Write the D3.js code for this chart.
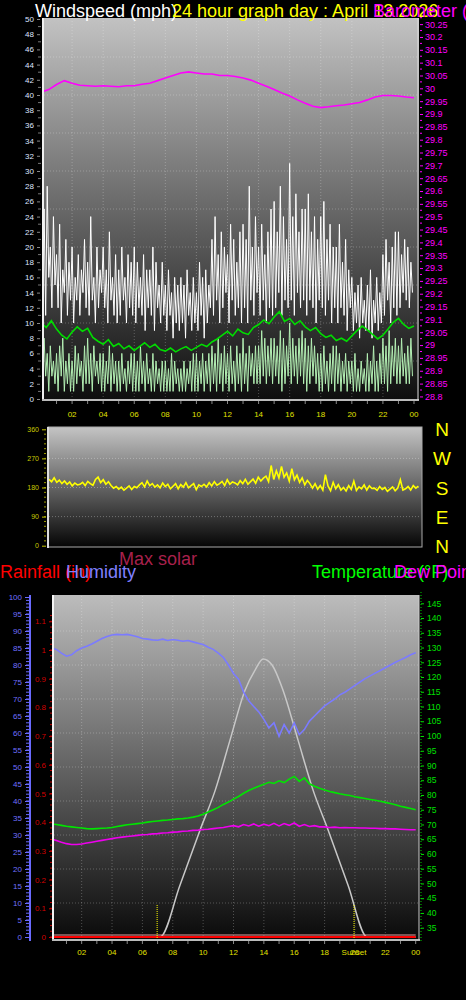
<!DOCTYPE html>
<html>
<head>
<meta charset="utf-8">
<script src="https://cdn.jsdelivr.net/npm/d3@7"></script>
<style>
body { margin: 0; background: #000; overflow: hidden; }
text { font-family: Arial, "Liberation Sans", sans-serif; }
</style>
</head>
<body>
<div id="chart"></div>
<script>
// ---- data ----
var hourTicks = [2, 4, 6, 8, 10, 12, 14, 16, 18, 20, 22, 24];
var hourLabels = ["02", "04", "06", "08", "10", "12", "14", "16", "18", "20", "22", "00"];

// wind gust, mph, every 6 min
var gust = [22,14,25,11,28,16,20,12,24,15, 19,12,23,10,17,14,21,11,18,13,
  20,10,16,13,19,11,17,14,21,12, 18,11,24,13,16,10,20,12,17,14,
  20,12,17,10,22,13,16,11,19,10, 17,11,20,13,16,10,19,12,18,11,
  20,10,18,12,16,11,19,9,17,12, 17,11,20,9,18,12,15,10,18,11,
  15,9,17,11,14,8,16,10,15,9, 16,10,15,8,17,11,14,9,16,10,
  14,9,18,11,16,8,17,10,15,12, 21,11,24,13,19,10,22,12,20,14,
  19,10,23,13,21,11,18,12,22,10, 23,12,21,10,28,13,20,11,24,14,
  20,11,23,13,19,10,22,12,25,11, 26,12,22,14,28,11,24,13,21,12,
  31,13,24,11,27,14,22,12,25,13, 25,11,27,13,22,12,24,10,21,13,
  24,12,26,11,21,13,23,10,20,12, 20,10,23,12,18,11,21,9,17,12,
  16,9,14,10,15,8,16,10,13,9, 15,9,17,8,13,10,16,9,14,10,
  19,11,21,13,18,10,20,12,22,11, 22,12,19,14,21,13,20,12,18,14];

// wind speed, mph, every 6 min
var windSpeed = [7,2,8,3,6,1,7,3,5,2, 6,1,7,3,8,1,5,2,6,1,
  5,1,7,2,6,3,5,1,7,2, 8,2,6,1,7,3,5,2,6,1,
  6,1,5,2,7,1,6,2,5,1, 5,1,6,2,4,1,5,2,6,1,
  6,1,5,1,7,2,5,1,6,2, 4,1,6,1,5,2,4,1,5,1,
  5,1,4,1,6,1,5,2,4,1, 4,1,5,1,4,2,5,1,6,1,
  6,1,5,2,6,1,5,2,6,1, 7,2,6,1,8,2,6,1,7,2,
  6,1,7,2,5,1,7,2,6,1, 8,2,6,1,7,3,6,2,7,2,
  7,2,9,3,8,2,7,3,8,2, 8,3,7,2,9,1,8,2,7,3,
  10,2,8,3,7,2,8,3,9,2, 8,1,7,2,8,3,7,2,6,1,
  6,1,7,2,5,1,6,2,7,1, 7,2,6,1,5,2,6,1,5,2,
  5,1,6,1,4,1,5,2,4,1, 6,1,5,2,7,1,5,1,6,2,
  8,2,7,1,9,2,7,3,8,2, 7,2,8,3,6,2,7,2,8,3];

// average wind speed, mph, every 20 min
var windAvg = [10.1,9.4,10.3,9.2,8.4,7.9, 8.8,9.5,8.9,9.3,8.1,7.6, 7.2,7.8,6.9,7.3,6.6,7.0,
  6.4,6.9,7.4,6.8,7.2,6.5, 6.3,6.7,6.2,6.6,6.9,6.4, 6.8,7.2,6.9,7.5,7.9,8.4,
  8.9,8.3,9.2,8.7,8.5,9.4, 9.8,10.4,9.9,10.8,11.5,10.2, 10.6,9.8,10.3,9.5,9.0,9.4,
  8.6,8.1,8.4,7.7,8.0,7.6, 8.3,9.0,9.6,9.1,8.5,7.9, 8.4,9.2,10.1,10.6,9.8,9.3, 9.6];

// barometer, inHg, every 30 min
var baro = [29.985,29.995,30.015,30.03,30.02,30.012,30.01,30.008,30.01,30.008,30.006,30.01,
  30.01,30.016,30.02,30.03,30.04,30.05,30.06,30.064,30.06,30.056,30.056,30.05,
  30.05,30.046,30.04,30.032,30.02,30.008,29.995,29.982,29.97,29.955,29.942,29.93,
  29.925,29.928,29.932,29.935,29.94,29.945,29.955,29.966,29.972,29.972,29.97,29.966,29.963];

// wind direction, degrees, every 10 min
var windDir = [205,198,210,196,203,192, 200,190,197,185,194,188, 190,196,186,199,192,187,
  205,212,195,204,190,198, 186,178,183,175,181,172, 178,185,174,183,179,188,
  195,182,200,186,192,181, 188,179,194,183,190,176, 184,192,176,189,181,195,
  179,186,192,173,188,183, 190,182,195,185,198,187, 192,199,186,204,190,197,
  194,188,201,192,205,190, 198,206,193,212,200,209, 215,198,248,205,232,210,
  245,212,225,200,238,204, 218,196,210,188,202,192, 178,192,175,186,172,220,
  185,170,196,176,189,172, 180,169,186,174,200,171, 182,176,188,172,185,177,
  178,171,183,174,180,168, 175,182,170,178,204,172, 176,183,172,186,178,184];
var dirTicks = [0, 90, 180, 270, 360];
var compass = ["N", "W", "S", "E", "N"];
var compassDeg = [360, 270, 180, 90, 0];

// humidity %, temperature and dew point F, every 20 min
var humidity = [85.0,84.6,83.5,82.6,83.0,84.2, 85.0,85.5,86.2,87.0,87.8,88.4,
  88.8,89.0,88.9,89.0,88.7,88.3, 87.8,87.6,87.4,87.3,87.6,87.2,
  87.5,87.3,87.0,87.2,86.8,86.4, 86.0,85.2,84.6,83.5,82.2,80.0,
  77.5,75.8,72.0,69.5,67.8,66.2, 64.0,61.5,63.0,59.0,62.5,60.0,
  63.0,59.5,61.0,63.5,65.0,66.5, 68.0,69.0,70.0,71.2,72.0,73.0,
  74.0,75.0,76.0,76.8,77.6,78.4, 79.2,80.0,80.8,81.5,82.2,83.0, 83.6];
var temperature = [70.2,70.0,69.7,69.4,69.2,69.0, 68.8,68.6,68.5,68.6,68.7,68.8,
  69.0,69.3,69.6,69.9,70.1,70.3, 70.5,70.8,71.0,71.2,71.4,71.5,
  71.7,71.9,72.0,72.2,72.5,72.9, 73.5,74.2,75.0,75.8,76.8,77.6,
  78.6,79.5,80.6,81.5,82.3,83.0, 83.6,84.3,83.9,84.8,84.2,85.4,
  86.3,84.6,85.8,83.8,83.0,82.3, 81.7,81.2,80.8,80.4,80.1,79.8,
  79.4,79.1,78.8,78.5,78.2,77.9, 77.5,77.1,76.7,76.2,75.8,75.4, 75.0];
var dewPoint = [65.0,64.6,64.0,63.5,63.2,63.2, 63.4,63.7,64.0,64.3,64.6,64.9,
  65.2,65.5,65.7,65.9,66.1,66.3, 66.5,66.6,66.8,66.9,67.1,67.2,
  67.4,67.5,67.7,67.8,68.0,68.1, 68.3,68.4,68.6,68.8,69.0,69.3,
  69.6,69.2,70.0,69.5,70.2,69.4, 70.1,69.6,70.4,69.5,70.3,69.7,
  70.5,69.4,70.0,69.3,69.6,69.2, 69.2,69.0,69.1,68.9,69.0,68.9,
  68.9,68.8,68.8,68.7,68.7,68.6, 68.6,68.5,68.5,68.4,68.3,68.2, 68.2];

// max solar, W/m2
var solarHours = [0, 7.16, 8.48, 9.8, 10.8, 11.77, 12.76, 13.42, 13.95, 14.54, 15.26, 16.25, 17.24, 18.23, 19.54, 20.8, 24];
var solarValues = [0, 0, 153, 315, 432, 579, 726, 785, 818, 800, 726, 579, 432, 315, 153, 0, 0];

// rainfall, in
var rainHours = [0, 24];
var rainRate = [0, 0];
var rainTotal = [0, 0];

var sunEvents = [6.97, 19.94];

var humTicks = d3.range(0, 101, 5);
var rainTicks = d3.range(0, 12).map(function(i) { return i / 10; });
var tempTicks = d3.range(35, 146, 5);
var windTicks = d3.range(0, 51, 2);
var baroTicks = d3.range(0, 30).map(function(i) { return 28.8 + i * 0.05; });

// ---- drawing ----
var W = 466, H = 1000;
var svg = d3.select("#chart").append("svg").attr("width", W).attr("height", H);
var defs = svg.append("defs");

function grad(id, c1, c2) {
  var g = defs.append("linearGradient").attr("id", id)
    .attr("x1", 0).attr("y1", 0).attr("x2", 0).attr("y2", 1);
  g.append("stop").attr("offset", "0%").attr("stop-color", c1);
  g.append("stop").attr("offset", "100%").attr("stop-color", c2);
}
grad("g1", "#c2c2c2", "#0e0e0e");
grad("g2", "#c4c4c4", "#050505");
grad("g3", "#bcbcbc", "#0a0a0a");

function clip(id, x, y, w, h) {
  defs.append("clipPath").attr("id", id).append("rect")
    .attr("x", x).attr("y", y).attr("width", w).attr("height", h);
}

svg.append("rect").attr("width", W).attr("height", H).attr("fill", "#000");

// ===== top: wind speed + barometer =====
var x1 = d3.scaleLinear().domain([0, 24]).range([41, 414]);
var yWind = d3.scaleLinear().domain([0, 50]).range([399, 19]);
var yBaro = d3.scaleLinear().domain([28.79, 30.27]).range([399, 19]);

svg.append("rect").attr("x", 43).attr("y", 18).attr("width", 376).attr("height", 382).attr("fill", "url(#g1)");
clip("c1", 44, 18, 374, 381);

var grid1 = svg.append("g").attr("stroke", "#fff").attr("stroke-opacity", 0.25)
  .attr("stroke-dasharray", "1,2");
grid1.selectAll(".h").data(d3.range(5, 50, 5)).enter().append("line")
  .attr("x1", 44).attr("x2", 418).attr("y1", yWind).attr("y2", yWind);
grid1.selectAll(".v").data(hourTicks.slice(0, 11)).enter().append("line")
  .attr("x1", x1).attr("x2", x1).attr("y1", 18).attr("y2", 399);

var g1 = svg.append("g").attr("clip-path", "url(#c1)");
var lineIdx = function(n, x, y) {
  return d3.line().x(function(d, i) { return x(i * 24 / (n - 1)); }).y(function(d) { return y(d); });
};
g1.append("path").datum(gust).attr("d", d3.line().x(function(d, i) { return x1(i / 10); }).y(yWind))
  .attr("fill", "none").attr("stroke", "#ffffff").attr("stroke-width", 1);
g1.append("path").datum(windSpeed).attr("d", d3.line().x(function(d, i) { return x1(i / 10); }).y(yWind))
  .attr("fill", "none").attr("stroke", "#b4f0b4").attr("stroke-width", 1);
g1.append("path").datum(windAvg).attr("d", lineIdx(windAvg.length, x1, yWind))
  .attr("fill", "none").attr("stroke", "#00dd00").attr("stroke-width", 1.6);
g1.append("path").datum(baro).attr("d", lineIdx(baro.length, x1, yBaro))
  .attr("fill", "none").attr("stroke", "#ff00ff").attr("stroke-width", 1.6);

// frame
svg.append("line").attr("x1", 43).attr("x2", 43).attr("y1", 18).attr("y2", 401).attr("stroke", "#f0f0f0").attr("stroke-width", 2);
svg.append("line").attr("x1", 42).attr("x2", 419).attr("y1", 400).attr("y2", 400).attr("stroke", "#bbb").attr("stroke-width", 2);
svg.append("line").attr("x1", 418).attr("x2", 418).attr("y1", 18).attr("y2", 400).attr("stroke", "#ddd").attr("stroke-width", 1);

// left wind axis
var axL = svg.append("g").attr("transform", "translate(40,0)")
  .call(d3.axisLeft(yWind).tickValues(windTicks).tickSize(3).tickFormat(d3.format("d")));
axL.select(".domain").remove();
axL.selectAll("line").attr("stroke", "#888");
axL.selectAll("text").attr("fill", "#dfe4ff").attr("font-size", 8).attr("x", -6);
svg.append("g").selectAll("line").data(d3.range(1, 50, 2)).enter().append("line")
  .attr("x1", 38).attr("x2", 41).attr("y1", yWind).attr("y2", yWind).attr("stroke", "#777");

// right barometer axis
var axR = svg.append("g").attr("transform", "translate(420,0)")
  .call(d3.axisRight(yBaro).tickValues(baroTicks).tickSize(3).tickFormat(function(d) { return String(+d.toFixed(2)); }));
axR.select(".domain").remove();
axR.selectAll("line").attr("stroke", "#ff00ff");
axR.selectAll("text").attr("fill", "#ff00ff").attr("font-size", 9).attr("x", 5);
svg.append("g").selectAll("line").data(baroTicks.map(function(d) { return d + 0.025; })).enter().append("line")
  .attr("x1", 420).attr("x2", 422).attr("y1", yBaro).attr("y2", yBaro).attr("stroke", "#ff00ff");

// bottom time axis
svg.append("g").selectAll("line").data(d3.range(1, 25)).enter().append("line")
  .attr("x1", x1).attr("x2", x1).attr("y1", 401).attr("y2", 404).attr("stroke", "#888");
svg.append("g").selectAll("text").data(hourTicks).enter().append("text")
  .attr("x", x1).attr("y", 417).attr("text-anchor", "middle").attr("font-size", 8)
  .attr("fill", "#e0e000").text(function(d, i) { return hourLabels[i]; });

// ===== middle: wind direction =====
var x2 = d3.scaleLinear().domain([0, 24]).range([49, 421]);
var yDir = d3.scaleLinear().domain([0, 360]).range([545.7, 429.3]);

svg.append("rect").attr("x", 48).attr("y", 427).attr("width", 374).attr("height", 120).attr("fill", "url(#g2)");
svg.append("rect").attr("x", 48).attr("y", 427).attr("width", 374).attr("height", 120)
  .attr("fill", "none").attr("stroke", "#aaa").attr("stroke-width", 1);
svg.append("line").attr("x1", 48).attr("x2", 48).attr("y1", 427).attr("y2", 548).attr("stroke", "#ddd").attr("stroke-width", 2);
svg.append("g").selectAll("line").data([90, 180, 270]).enter().append("line")
  .attr("x1", 49).attr("x2", 421).attr("y1", yDir).attr("y2", yDir)
  .attr("stroke", "#fff").attr("stroke-opacity", 0.3).attr("stroke-dasharray", "1,2");
clip("c2", 49, 428, 372, 118);
svg.append("g").attr("clip-path", "url(#c2)").append("path").datum(windDir)
  .attr("d", d3.line().x(function(d, i) { return x2(i / 6); }).y(yDir))
  .attr("fill", "none").attr("stroke", "#ffff00").attr("stroke-width", 1.6);

var axD = svg.append("g").attr("transform", "translate(46,0)")
  .call(d3.axisLeft(yDir).tickValues(dirTicks).tickSize(4));
axD.select(".domain").remove();
axD.selectAll("line").attr("stroke", "#c8c800");
axD.selectAll("text").attr("fill", "#c8c800").attr("font-size", 7).attr("x", -7);
svg.append("g").selectAll("line").data(d3.range(15, 360, 15)).enter().append("line")
  .attr("x1", 44).attr("x2", 46).attr("y1", yDir).attr("y2", yDir).attr("stroke", "#a0a000");

svg.append("g").selectAll("text").data(compassDeg).enter().append("text")
  .attr("x", 442).attr("y", function(d) { return yDir(d) + 7; }).attr("text-anchor", "middle")
  .attr("font-size", 19).attr("fill", "#ffff00").text(function(d, i) { return compass[i]; });

// ===== bottom: humidity / rain / temperature =====
var x3 = d3.scaleLinear().domain([0, 24]).range([51.3, 415.7]);
var yHum = d3.scaleLinear().domain([0, 100]).range([937, 597]);
var yRain = d3.scaleLinear().domain([0, 1.1]).range([937, 621.3]);
var yTemp = d3.scaleLinear().domain([35, 145]).range([927.7, 603.3]);
var ySolar = d3.scaleLinear().domain([0, 1000]).range([937, 597]);

svg.append("rect").attr("x", 53).attr("y", 595).attr("width", 366).attr("height", 345).attr("fill", "url(#g3)");
var grid3 = svg.append("g").attr("stroke", "#fff").attr("stroke-opacity", 0.25).attr("stroke-dasharray", "1,2");
grid3.selectAll(".h").data(d3.range(10, 100, 10)).enter().append("line")
  .attr("x1", 54).attr("x2", 418).attr("y1", yHum).attr("y2", yHum);
grid3.selectAll(".v").data(hourTicks.slice(0, 11)).enter().append("line")
  .attr("x1", x3).attr("x2", x3).attr("y1", 596).attr("y2", 937);

clip("c3", 54, 595, 364, 344);
var g3 = svg.append("g").attr("clip-path", "url(#c3)");
g3.append("path").datum(solarValues)
  .attr("d", d3.line().x(function(d, i) { return x3(solarHours[i]); }).y(ySolar).curve(d3.curveMonotoneX))
  .attr("fill", "none").attr("stroke", "#c8c8c8").attr("stroke-width", 1.5);
g3.append("path").datum(humidity).attr("d", lineIdx(humidity.length, x3, yHum))
  .attr("fill", "none").attr("stroke", "#7b7bff").attr("stroke-width", 1.6);
g3.append("path").datum(temperature).attr("d", lineIdx(temperature.length, x3, yTemp))
  .attr("fill", "none").attr("stroke", "#00e600").attr("stroke-width", 1.6);
g3.append("path").datum(dewPoint).attr("d", lineIdx(dewPoint.length, x3, yTemp))
  .attr("fill", "none").attr("stroke", "#ee00ee").attr("stroke-width", 1.6);
g3.append("path").datum(rainTotal)
  .attr("d", d3.line().x(function(d, i) { return x3(rainHours[i]); }).y(function(d) { return yRain(d) - 2; }))
  .attr("fill", "none").attr("stroke", "#e8a0a0").attr("stroke-width", 1);
g3.append("path").datum(rainRate)
  .attr("d", d3.line().x(function(d, i) { return x3(rainHours[i]); }).y(yRain))
  .attr("fill", "none").attr("stroke", "#ff0000").attr("stroke-width", 2.2);

// sunrise / sunset markers
svg.append("g").selectAll("line").data(sunEvents).enter().append("line")
  .attr("x1", x3).attr("x2", x3).attr("y1", 905).attr("y2", 941)
  .attr("stroke", "#ffff00").attr("stroke-dasharray", "1,1");

// frame
svg.append("line").attr("x1", 53).attr("x2", 53).attr("y1", 595).attr("y2", 941).attr("stroke", "#f4f4f4").attr("stroke-width", 2);
svg.append("line").attr("x1", 52).attr("x2", 420).attr("y1", 940).attr("y2", 940).attr("stroke", "#bbb").attr("stroke-width", 2);
svg.append("line").attr("x1", 419).attr("x2", 419).attr("y1", 595).attr("y2", 940).attr("stroke", "#ccc");

// humidity axis (far left)
svg.append("line").attr("x1", 30).attr("x2", 30).attr("y1", 595).attr("y2", 941).attr("stroke", "#6a6aff").attr("stroke-width", 2);
var axH = svg.append("g").attr("transform", "translate(29,0)")
  .call(d3.axisLeft(yHum).tickValues(humTicks).tickSize(4));
axH.select(".domain").remove();
axH.selectAll("line").attr("stroke", "#6a6aff");
axH.selectAll("text").attr("fill", "#7070ff").attr("font-size", 8).attr("x", -7);
svg.append("g").selectAll("line").data(d3.range(1, 100)).enter().append("line")
  .attr("x1", 26).attr("x2", 29).attr("y1", yHum).attr("y2", yHum).attr("stroke", "#6a6aff");

// rain axis
var axRain = svg.append("g").attr("transform", "translate(52,0)")
  .call(d3.axisLeft(yRain).tickValues(rainTicks).tickSize(3).tickFormat(function(d) { return String(+d.toFixed(1)); }));
axRain.select(".domain").remove();
axRain.selectAll("line").attr("stroke", "#d00000");
axRain.selectAll("text").attr("fill", "#d00000").attr("font-size", 8).attr("x", -6);
svg.append("g").selectAll("line").data(d3.range(0, 57).map(function(i) { return i / 50; })).enter().append("line")
  .attr("x1", 50).attr("x2", 52).attr("y1", yRain).attr("y2", yRain).attr("stroke", "#c00000");

// temperature axis (right)
svg.append("line").attr("x1", 421).attr("x2", 421).attr("y1", 592).attr("y2", 941).attr("stroke", "#00cc00").attr("stroke-dasharray", "1,2");
var axT = svg.append("g").attr("transform", "translate(421,0)")
  .call(d3.axisRight(yTemp).tickValues(tempTicks).tickSize(3));
axT.select(".domain").remove();
axT.selectAll("line").attr("stroke", "#00dd00");
axT.selectAll("text").attr("fill", "#00e000").attr("font-size", 8.5).attr("x", 6);

// bottom time axis
svg.append("g").selectAll("line").data(d3.range(1, 25)).enter().append("line")
  .attr("x1", x3).attr("x2", x3).attr("y1", 941).attr("y2", 944).attr("stroke", "#888");
svg.append("g").selectAll("text").data(hourTicks).enter().append("text")
  .attr("x", x3).attr("y", 955).attr("text-anchor", "middle").attr("font-size", 8)
  .attr("fill", "#e0e000").text(function(d, i) { return hourLabels[i]; });
svg.append("text").attr("x", x3(sunEvents[1])).attr("y", 955).attr("text-anchor", "middle")
  .attr("font-size", 8).attr("fill", "#e0e000").text("Sunset");

// ===== titles =====
var titles = [
  ["Windspeed (mph)", 35, 17, "#ffffff"],
  ["24 hour graph day : April 13 2026", 172, 17, "#ffff00"],
  ["Barometer (inHg)", 373, 17, "#ff00ff"],
  ["Max solar", 119, 565, "#a8204c"],
  ["Rainfall (in)", 0, 578, "#ff0000"],
  ["Humidity", 66, 578, "#8080ff"],
  ["Temperature (°F)", 312, 578, "#00ff00"],
  ["Dew Point (°F)", 394, 578, "#ff00ff"]
];
svg.append("g").selectAll("text").data(titles).enter().append("text")
  .attr("x", function(d) { return d[1]; }).attr("y", function(d) { return d[2]; })
  .attr("font-size", 18).attr("fill", function(d) { return d[3]; })
  .text(function(d) { return d[0]; });
</script>
</body>
</html>
